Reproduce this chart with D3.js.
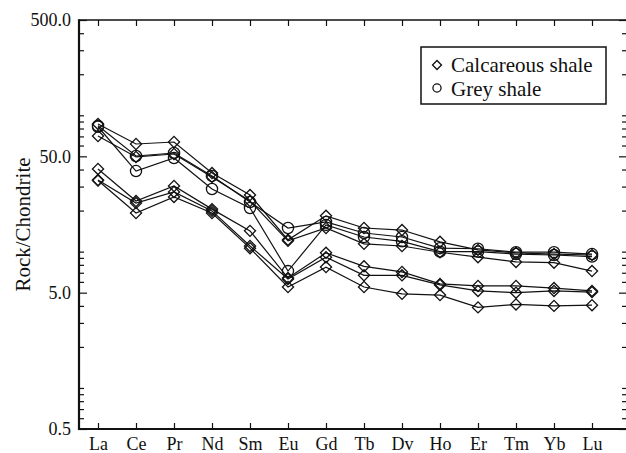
<!DOCTYPE html>
<html>
<head>
<meta charset="utf-8">
<script src="https://cdn.jsdelivr.net/npm/d3@7"></script>
<style>
  body { margin: 0; background: #fff; }
  svg { display: block; }
  svg text { font-family: "Liberation Serif", "Times New Roman", Times, "DejaVu Serif", serif !important; }
</style>
</head>
<body>
<svg id="chart" width="626" height="453"></svg>
<script>
// REE elements on the x axis
const elements = ['La','Ce','Pr','Nd','Sm','Eu','Gd','Tb','Dv','Ho','Er','Tm','Yb','Lu'];

// calcareous shale samples (diamonds)
const calc1 = [86.4, 61.6, 63.7, 37.7, 26.0, 12.2, 18.3, 14.9, 14.4, 11.8, 10.3, 9.8, 9.6, 9.45];
const calc2 = [70.5, 49.5, 52.0, 35.3, 23.5, 12.0, 14.9, 11.4, 11.0, 9.9, 9.1, 8.4, 8.3, 7.2];
const calc3 = [40.4, 23.5, 30.3, 20.5, 14.2, 6.4, 9.8, 7.8, 7.1, 5.8, 5.6, 5.6, 5.4, 5.15];
const calc4 = [33.5, 22.7, 27.4, 19.9, 11.0, 6.3, 9.1, 6.7, 6.7, 5.7, 5.15, 5.0, 5.15, 5.05];
const calc5 = [33.2, 19.2, 25.2, 19.2, 10.6, 5.5, 7.7, 5.5, 4.9, 4.8, 3.9, 4.1, 4.0, 4.05];
// grey shale samples (circles)
const grey1 = [83.7, 50.3, 52.9, 35.9, 23.1, 14.9, 16.5, 13.7, 12.8, 10.6, 10.5, 9.9, 9.9, 9.6];
const grey2 = [82.4, 39.0, 48.6, 28.8, 20.9, 7.2, 15.7, 12.8, 11.9, 10.0, 10.0, 9.6, 9.45, 9.2];

const yMajor = [0.5, 5, 50, 500];
const yMinor = [0.6,0.7,0.8,0.9,1,2,3,4,6,7,8,9,10,20,30,40,60,70,80,90,100,200,300,400];

const series = [
  { values: calc1, shape: 'diamond' },
  { values: calc2, shape: 'diamond' },
  { values: calc3, shape: 'diamond' },
  { values: calc4, shape: 'diamond' },
  { values: calc5, shape: 'diamond' },
  { values: grey1, shape: 'circle' },
  { values: grey2, shape: 'circle' }
];

const svg = d3.select('#chart');
const pLeft = 79, pRight = 627, pTop = 20, pBottom = 429;

const x = d3.scalePoint().domain(elements).range([98, 592]);
const y = d3.scaleLog().domain([0.5, 500]).range([pBottom, pTop]);

const diamond = d3.symbol().type(d3.symbolSquare).size(62);
const circle = d3.symbol().type(d3.symbolCircle).size(98);

// lines
const line = d3.line().x((d, i) => x(elements[i])).y(d => y(d));
svg.append('g')
  .selectAll('path')
  .data(series)
  .join('path')
    .attr('d', s => line(s.values))
    .attr('fill', 'none')
    .attr('stroke', '#111')
    .attr('stroke-width', 1.2);

// markers
series.forEach(s => {
  svg.append('g')
    .selectAll('path')
    .data(s.values)
    .join('path')
      .attr('transform', (d, i) => s.shape === 'diamond'
        ? `translate(${x(elements[i])},${y(d)}) rotate(45)`
        : `translate(${x(elements[i])},${y(d)})`)
      .attr('d', s.shape === 'diamond' ? diamond : circle)
      .attr('fill', 'none')
      .attr('stroke', '#111')
      .attr('stroke-width', 1.3);
});

// axes
const styleAxis = g => {
  g.select('.domain').remove();
  g.selectAll('line').attr('stroke', '#111').attr('stroke-width', 1.2);
  g.selectAll('text').attr('fill', '#111').attr('font-size', '18px');
};

svg.append('g').attr('transform', `translate(${pLeft},0)`)
  .call(d3.axisLeft(y).tickValues(yMajor).tickSize(-8).tickPadding(8).tickFormat(d3.format('.1f')))
  .call(styleAxis);
svg.append('g').attr('transform', `translate(${pLeft},0)`)
  .call(d3.axisLeft(y).tickValues(yMinor).tickSize(-5).tickFormat(''))
  .call(styleAxis);
svg.append('g').attr('transform', `translate(${pRight},0)`)
  .call(d3.axisRight(y).tickValues(yMajor).tickSize(-8).tickFormat(''))
  .call(styleAxis);
svg.append('g').attr('transform', `translate(${pRight},0)`)
  .call(d3.axisRight(y).tickValues(yMinor).tickSize(-5).tickFormat(''))
  .call(styleAxis);
svg.append('g').attr('transform', `translate(0,${pBottom})`)
  .call(d3.axisBottom(x).tickSize(-6).tickPadding(8))
  .call(styleAxis);
svg.append('g').attr('transform', `translate(0,${pTop})`)
  .call(d3.axisTop(x).tickSize(-6).tickFormat(''))
  .call(styleAxis);

// frame
svg.append('line').attr('x1', pLeft).attr('x2', pRight).attr('y1', pTop).attr('y2', pTop)
  .attr('stroke', '#111').attr('stroke-width', 1.6);
svg.append('line').attr('x1', pLeft).attr('x2', pLeft).attr('y1', pTop - 0.8).attr('y2', pBottom + 1)
  .attr('stroke', '#111').attr('stroke-width', 2.2);
svg.append('line').attr('x1', pLeft - 1).attr('x2', pRight).attr('y1', pBottom).attr('y2', pBottom)
  .attr('stroke', '#111').attr('stroke-width', 2.2);

// y title
svg.append('text')
  .attr('transform', `translate(30,${(pTop + pBottom) / 2}) rotate(-90)`)
  .attr('text-anchor', 'middle')
  .attr('font-size', '21px')
  .attr('fill', '#111')
  .text('Rock/Chondrite');

// legend
const lg = svg.append('g');
lg.append('rect').attr('x', 421).attr('y', 47).attr('width', 185).attr('height', 57)
  .attr('fill', '#fff').attr('stroke', '#111').attr('stroke-width', 1.5);
lg.append('path').attr('transform', 'translate(437,65) rotate(45)')
  .attr('d', d3.symbol().type(d3.symbolSquare).size(40))
  .attr('fill', 'none').attr('stroke', '#111').attr('stroke-width', 1.3);
lg.append('path').attr('transform', 'translate(437,88)')
  .attr('d', d3.symbol().type(d3.symbolCircle).size(52))
  .attr('fill', 'none').attr('stroke', '#111').attr('stroke-width', 1.3);
lg.append('text').attr('x', 451).attr('y', 72).attr('font-size', '21px').attr('fill', '#111')
  .text('Calcareous shale');
lg.append('text').attr('x', 451).attr('y', 96).attr('font-size', '21px').attr('fill', '#111')
  .text('Grey shale');
</script>
</body>
</html>
